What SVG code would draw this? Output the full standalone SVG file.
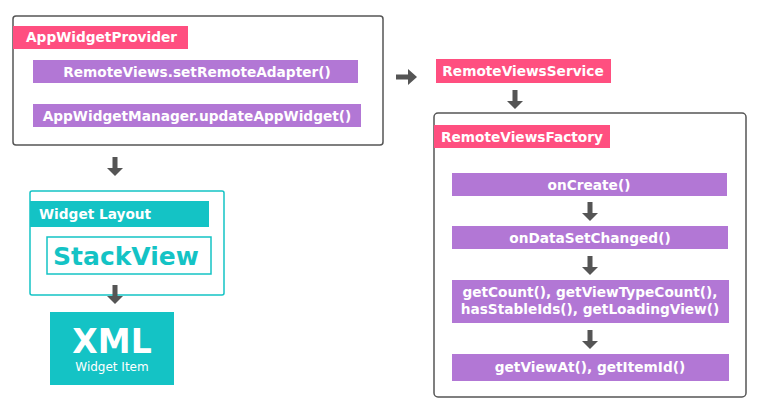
<svg xmlns="http://www.w3.org/2000/svg" width="762" height="409" viewBox="0 0 762 409">
<defs>
<style>
.frame{fill:#fff;stroke:#555;stroke-width:1.5}
.pink{fill:#ff4f80}
.purple{fill:#b277d5}
.teal{fill:#14c3c5}
.t{font-family:"DejaVu Sans",Verdana,sans-serif;font-weight:bold;font-size:13.7px;fill:#fff;text-anchor:middle}
.tl{font-family:"DejaVu Sans",Verdana,sans-serif;font-weight:bold;font-size:13.7px;fill:#fff}
.arrow{fill:#555}
</style>
<path id="ad" d="M-2.5,0 H2.5 V11 H8 L0,19 L-8,11 H-2.5 Z"/>
<path id="ar" d="M0,-2.5 V2.5 H12 V8 L21,0 L12,-8 V-2.5 Z"/>
</defs>
<rect width="762" height="409" fill="#fff"/>

<g id="provider">
<rect class="frame" x="13" y="16" width="370" height="129" rx="3"/>
<rect class="pink" x="13" y="26" width="175" height="23"/>
<text class="tl" x="26" y="42">AppWidgetProvider</text>
<rect class="purple" x="33" y="60" width="325" height="23"/>
<text class="t" x="197" y="76.5">RemoteViews.setRemoteAdapter()</text>
<rect class="purple" x="33" y="104" width="328" height="23"/>
<text class="t" x="197" y="120.5">AppWidgetManager.updateAppWidget()</text>
</g>

<g id="service">
<rect class="pink" x="436" y="59" width="175" height="24"/>
<text class="t" x="523" y="76">RemoteViewsService</text>
</g>

<g id="factory">
<rect class="frame" x="434" y="113" width="312" height="284" rx="4"/>
<rect class="pink" x="434" y="125" width="176" height="23"/>
<text class="tl" x="441" y="141.5">RemoteViewsFactory</text>
<g id="oncreate">
<rect class="purple" x="452" y="173" width="275" height="23"/>
<text class="t" x="589" y="189.5">onCreate()</text>
</g>
<g id="ondatasetchanged">
<rect class="purple" x="452" y="226" width="276" height="23"/>
<text class="t" x="590" y="242.5">onDataSetChanged()</text>
</g>
<g id="getcount">
<rect class="purple" x="452" y="280" width="277" height="43"/>
<text class="t" x="590" y="297">getCount(), getViewTypeCount(),</text>
<text class="t" x="590" y="314">hasStableIds(), getLoadingView()</text>
</g>
<g id="getviewat">
<rect class="purple" x="452" y="354" width="277" height="27"/>
<text class="t" x="590" y="372">getViewAt(), getItemId()</text>
</g>
</g>

<g id="widgetlayout">
<rect x="30" y="191" width="194" height="104" rx="2" fill="#fff" stroke="#14c3c5" stroke-width="1.5"/>
<rect class="teal" x="30" y="201" width="179" height="26"/>
<text class="tl" x="39" y="219">Widget Layout</text>
<rect x="47" y="237" width="164" height="37" fill="#fff" stroke="#14c3c5" stroke-width="1.5"/>
<text x="126" y="265" font-family="DejaVu Sans,Verdana,sans-serif" font-weight="bold" font-size="25" fill="#14c3c5" text-anchor="middle">StackView</text>
</g>

<g id="xml">
<rect class="teal" x="50" y="312" width="124" height="73"/>
<text x="112" y="353" font-family="DejaVu Sans,Verdana,sans-serif" font-weight="bold" font-size="33" fill="#fff" text-anchor="middle">XML</text>
<text x="112" y="371" font-family="DejaVu Sans,Verdana,sans-serif" font-size="12" fill="#fff" text-anchor="middle">Widget Item</text>
</g>

<g id="connectors" class="arrow">
<use href="#ad" x="115" y="157"/>
<use href="#ad" x="115" y="285"/>
<use href="#ar" x="396" y="77"/>
<use href="#ad" x="515" y="90"/>
<use href="#ad" x="590" y="202"/>
<use href="#ad" x="590" y="256"/>
<use href="#ad" x="590" y="330"/>
</g>
</svg>
